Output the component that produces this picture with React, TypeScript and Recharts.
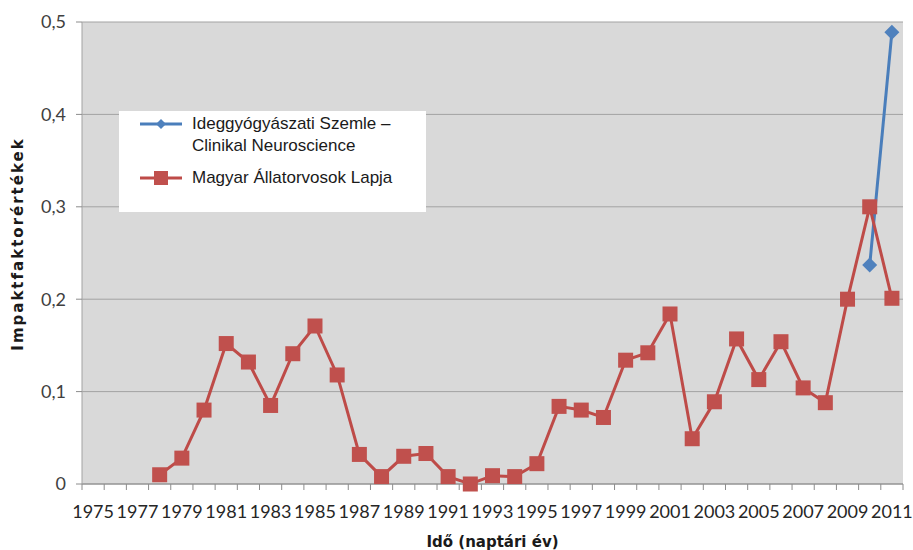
import React from 'react';
import { LineChart, Line, XAxis, YAxis, CartesianGrid, Legend } from 'recharts';

const years = [
  1975, 1976, 1977, 1978, 1979, 1980, 1981, 1982, 1983, 1984, 1985, 1986, 1987,
  1988, 1989, 1990, 1991, 1992, 1993, 1994, 1995, 1996, 1997, 1998, 1999, 2000,
  2001, 2002, 2003, 2004, 2005, 2006, 2007, 2008, 2009, 2010, 2011,
];

// Magyar Állatorvosok Lapja (from 1978)
const mal = [
  null, null, null, 0.01, 0.028, 0.08, 0.152, 0.132, 0.085, 0.141, 0.171, 0.118,
  0.032, 0.008, 0.03, 0.033, 0.008, 0.0, 0.009, 0.008, 0.022, 0.084, 0.08,
  0.072, 0.134, 0.142, 0.184, 0.049, 0.089, 0.157, 0.113, 0.154, 0.104, 0.088,
  0.2, 0.3, 0.201,
];

// Ideggyógyászati Szemle – Clinikal Neuroscience (2010, 2011)
const ideg: (number | null)[] = years.map(() => null);
ideg[years.indexOf(2010)] = 0.237;
ideg[years.indexOf(2011)] = 0.489;

const yTicks = [0, 0.1, 0.2, 0.3, 0.4, 0.5];

const data = years.map((y, i) => ({ year: y, ideg: ideg[i], mal: mal[i] }));

const BLUE = '#4a7ebb';
const RED = '#be4b48';
const TICK_FONT = "Lato, 'Open Sans', sans-serif";

const W = 913;
const H = 550;
const margin = { top: 22, right: 10, left: 0, bottom: 0 };
const Y_W = 82;
const X_H = 66;
const plotW = W - Y_W - margin.right;
const half = plotW / years.length / 2;

const fmt = (v: number) => (v === 0 ? '0' : v.toFixed(1).replace('.', ','));

const XTick = (props: any) => {
  const { x, y, payload, index } = props;
  const last = index === years.length - 1;
  return (
    <g>
      <line x1={x - half} x2={x - half} y1={y - 8} y2={y - 2} stroke="#8c8c8c" />
      {last && <line x1={x + half} x2={x + half} y1={y - 8} y2={y - 2} stroke="#8c8c8c" />}
      {index % 2 === 0 && (
        <text x={x} y={y + 26} textAnchor="middle" fontFamily={TICK_FONT} fontSize={18} fill="#262626">
          {payload.value}
        </text>
      )}
    </g>
  );
};

const SquareDot = (props: any) => {
  const { cx, cy, value } = props;
  if (value == null || cx == null || cy == null) return null;
  return <rect x={cx - 7.5} y={cy - 7.5} width={15} height={15} fill="#c0504d" />;
};

const DiamondDot = (props: any) => {
  const { cx, cy, value } = props;
  if (value == null || cx == null || cy == null) return null;
  const r = 7.5;
  return <polygon points={`${cx},${cy - r} ${cx + r},${cy} ${cx},${cy + r} ${cx - r},${cy}`} fill="#4f81bd" />;
};

const LegendBox = () => (
  <div
    style={{
      background: '#ffffff',
      width: 307,
      height: 101,
      boxSizing: 'border-box',
      fontFamily: "'Liberation Sans', Arial, sans-serif",
      fontSize: 17,
      color: '#1a1a1a',
      position: 'relative',
    }}
  >
    <svg width={307} height={101} style={{ position: 'absolute', left: 0, top: 0 }}>
      <line x1={21} x2={63} y1={13} y2={13} stroke={BLUE} strokeWidth={3} />
      <polygon points="42,8 47,13 42,18 37,13" fill="#4f81bd" />
      <line x1={21} x2={63} y1={67} y2={67} stroke={RED} strokeWidth={3} />
      <rect x={35} y={60} width={14} height={14} fill="#c0504d" />
    </svg>
    <div style={{ position: 'absolute', left: 73, top: 2, lineHeight: '22px' }}>
      Ideggyógyászati Szemle –<br />Clinikal Neuroscience
    </div>
    <div style={{ position: 'absolute', left: 73, top: 56, lineHeight: '22px' }}>
      Magyar Állatorvosok Lapja
    </div>
  </div>
);

export default function App() {
  return (
    <div style={{ position: 'absolute', left: 0, top: 0, width: W, height: H, background: '#fff' }}>
      <LineChart width={W} height={H} data={data} margin={margin}>
        <CartesianGrid vertical={false} fill="#d9d9d9" stroke="#a3a3a3" horizontalValues={yTicks} />
        <XAxis
          dataKey="year"
          interval={0}
          height={X_H}
          padding={{ left: half, right: half }}
          axisLine={{ stroke: '#8c8c8c' }}
          tickLine={false}
          tick={<XTick />}
          label={({ viewBox }: any) => (
            <text
              x={viewBox.x + viewBox.width / 2}
              y={viewBox.y + 63}
              textAnchor="middle"
              fontFamily="'DejaVu Sans', sans-serif"
              fontWeight="bold"
              fontSize={15}
              fill="#1a1a1a"
            >
              Idő (naptári év)
            </text>
          )}
        />
        <YAxis
          width={Y_W}
          domain={[0, 0.5]}
          ticks={yTicks}
          tickFormatter={fmt}
          axisLine={{ stroke: '#a3a3a3' }}
          tickLine={{ stroke: '#8c8c8c' }}
          tickSize={6}
          tickMargin={10}
          tick={{ fontFamily: TICK_FONT, fontSize: 18, fill: '#404040' }}
          label={({ viewBox }: any) => (
            <text
              transform={`translate(${viewBox.x + 18}, ${viewBox.y + viewBox.height / 2 - 9}) rotate(-90)`}
              textAnchor="middle"
              dominantBaseline="central"
              fontFamily="'DejaVu Sans', sans-serif"
              fontWeight="bold"
              fontSize={15}
              letterSpacing={2}
              fill="#1a1a1a"
            >
              Impaktfaktorértékek
            </text>
          )}
        />
        <Legend
          layout="horizontal"
          verticalAlign="middle"
          align="center"
          content={<LegendBox />}
          wrapperStyle={{ left: 119, top: 111, width: 307, height: 101 }}
        />
        <Line
          dataKey="ideg"
          name="Ideggyógyászati Szemle – Clinikal Neuroscience"
          stroke={BLUE}
          strokeWidth={3}
          dot={<DiamondDot />}
          activeDot={false}
          isAnimationActive={false}
        />
        <Line
          dataKey="mal"
          name="Magyar Állatorvosok Lapja"
          stroke={RED}
          strokeWidth={3}
          dot={<SquareDot />}
          activeDot={false}
          isAnimationActive={false}
        />
      </LineChart>
    </div>
  );
}
